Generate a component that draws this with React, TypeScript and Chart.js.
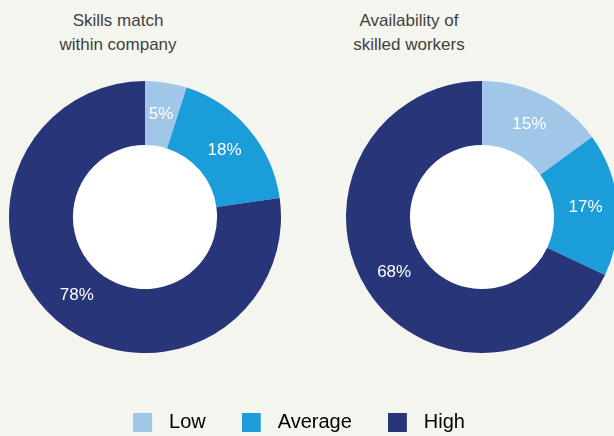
import { useEffect, useRef } from "react";
import { Chart, registerables } from "chart.js";

Chart.register(...registerables);

const categories = ["Low", "Average", "High"];
const skillsMatch = [5, 18, 78];
const availability = [15, 17, 68];
const titleLeft = ["Skills match", "within company"];
const titleRight = ["Availability of", "skilled workers"];
const colors = ["#a0c6e8", "#1b9dd9", "#283579"];

const FONT = "'Liberation Sans', Arial, Helvetica, sans-serif";
const BG = "#f5f5ef";

const holePlugin = {
  id: "hole",
  beforeDatasetsDraw(chart: any) {
    const meta = chart.getDatasetMeta(0);
    const arc = meta.data[0];
    if (!arc) return;
    const { x, y, innerRadius } = arc.getProps(["x", "y", "innerRadius"], true);
    const ctx = chart.ctx;
    ctx.save();
    ctx.beginPath();
    ctx.arc(x, y, innerRadius, 0, Math.PI * 2);
    ctx.fillStyle = "#ffffff";
    ctx.fill();
    ctx.restore();
  },
};

const labelPlugin = {
  id: "sliceLabels",
  afterDatasetsDraw(chart: any) {
    const ctx = chart.ctx;
    const ds = chart.data.datasets[0];
    const meta = chart.getDatasetMeta(0);
    ctx.save();
    ctx.font = `17px ${FONT}`;
    ctx.fillStyle = "#ffffff";
    ctx.textAlign = "center";
    ctx.textBaseline = "middle";
    meta.data.forEach((arc: any, i: number) => {
      const p = arc.tooltipPosition(true);
      ctx.fillText(ds.data[i] + "%", p.x, p.y);
    });
    ctx.restore();
  },
};

function Donut({ values, left }: { values: number[]; left: number }) {
  const ref = useRef<HTMLCanvasElement | null>(null);
  useEffect(() => {
    const chart = new Chart(ref.current as HTMLCanvasElement, {
      type: "doughnut",
      data: {
        labels: categories,
        datasets: [
          {
            data: values,
            backgroundColor: colors,
            borderWidth: 0,
            hoverOffset: 0,
          },
        ],
      },
      options: {
        responsive: false,
        animation: false,
        cutout: "53%",
        events: [],
        layout: { padding: 0 },
        plugins: {
          legend: { display: false },
          tooltip: { enabled: false },
        },
      },
      plugins: [holePlugin, labelPlugin],
    } as any);
    return () => chart.destroy();
  }, []);
  return (
    <canvas
      ref={ref}
      width={272}
      height={272}
      style={{ position: "absolute", left, top: 81, width: 272, height: 272 }}
    />
  );
}

function makeSwatch(color: string) {
  const c = document.createElement("canvas");
  c.width = 26;
  c.height = 19;
  const cx = c.getContext("2d") as CanvasRenderingContext2D;
  cx.fillStyle = color;
  cx.fillRect(0, 0, 19, 19);
  return c;
}

function LegendChart() {
  const ref = useRef<HTMLCanvasElement | null>(null);
  useEffect(() => {
    const swatches = colors.map(makeSwatch);
    const chart = new Chart(ref.current as HTMLCanvasElement, {
      type: "doughnut",
      data: {
        labels: categories,
        datasets: [
          {
            data: skillsMatch,
            backgroundColor: colors,
            borderWidth: 0,
            radius: 0,
          },
        ],
      },
      options: {
        responsive: false,
        animation: false,
        events: [],
        layout: { padding: { left: 0, right: 16, top: 0, bottom: 0 } },
        plugins: {
          tooltip: { enabled: false },
          legend: {
            display: true,
            position: "top",
            labels: {
              usePointStyle: true,
              pointStyleWidth: 26,
              boxHeight: 19,
              padding: 36,
              color: "#4a4a4a",
              font: { family: FONT, size: 20 },
              generateLabels: () =>
                categories.map((text, i) => ({
                  text,
                  fillStyle: colors[i],
                  strokeStyle: colors[i],
                  lineWidth: 0,
                  pointStyle: swatches[i],
                  hidden: false,
                  index: i,
                })),
            },
          },
        },
      },
    } as any);
    return () => chart.destroy();
  }, []);
  return (
    <canvas
      ref={ref}
      width={614}
      height={260}
      style={{ position: "absolute", left: 0, top: 376, width: 614, height: 260 }}
    />
  );
}

function Title({ lines, cx }: { lines: string[]; cx: number }) {
  return (
    <div
      style={{
        position: "absolute",
        left: cx - 110,
        width: 220,
        top: 9,
        textAlign: "center",
        fontFamily: FONT,
        fontSize: 17,
        lineHeight: "23.5px",
        color: "#3f3f3f",
        whiteSpace: "nowrap",
      }}
    >
      {lines.map((l) => (
        <div key={l}>{l}</div>
      ))}
    </div>
  );
}

export default function App() {
  useEffect(() => {
    document.body.style.margin = "0";
  }, []);
  return (
    <div
      style={{
        position: "absolute",
        left: 0,
        top: 0,
        width: 614,
        height: 436,
        overflow: "hidden",
        background: BG,
      }}
    >
      <Title lines={titleLeft} cx={118} />
      <Title lines={titleRight} cx={409} />
      <Donut values={skillsMatch} left={9} />
      <Donut values={availability} left={346} />
      <LegendChart />
    </div>
  );
}
